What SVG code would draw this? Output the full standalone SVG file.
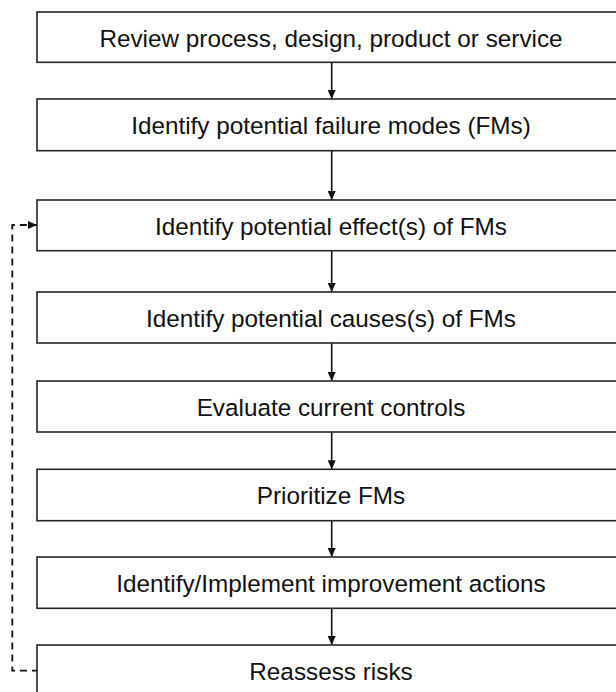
<svg xmlns="http://www.w3.org/2000/svg" width="616" height="692" viewBox="0 0 616 692">
  <defs>
    <style>
      .box { fill: #ffffff; stroke: #262626; stroke-width: 1.6; }
      .lbl { font-family: "Liberation Sans", Arial, sans-serif; font-size: 24.3px; fill: #111111; text-anchor: middle; }
      .flow { fill: none; stroke: #111111; stroke-width: 1.6; }
      .loop { fill: none; stroke: #111111; stroke-width: 1.8; stroke-dasharray: 7 5; }
    </style>
    <marker id="arrow" viewBox="0 0 9 8" refX="9" refY="4" markerWidth="9" markerHeight="8" markerUnits="userSpaceOnUse" orient="auto">
      <path d="M0,0 L9,4 L0,8 Z" fill="#111111"/>
    </marker>
  </defs>
  <rect x="0" y="0" width="616" height="692" fill="#ffffff"/>

  <g id="connectors">
    <line class="flow" x1="331.7" y1="62.3" x2="331.7" y2="99" marker-end="url(#arrow)"/>
    <line class="flow" x1="331.7" y1="150.7" x2="331.7" y2="200" marker-end="url(#arrow)"/>
    <line class="flow" x1="331.7" y1="250.7" x2="331.7" y2="292" marker-end="url(#arrow)"/>
    <line class="flow" x1="331.7" y1="343" x2="331.7" y2="381" marker-end="url(#arrow)"/>
    <line class="flow" x1="331.7" y1="432" x2="331.7" y2="469.3" marker-end="url(#arrow)"/>
    <line class="flow" x1="331.7" y1="520.7" x2="331.7" y2="557" marker-end="url(#arrow)"/>
    <line class="flow" x1="331.7" y1="608.3" x2="331.7" y2="645" marker-end="url(#arrow)"/>
    <path class="loop" d="M39,670.7 H12.3 V225 H37" marker-end="url(#arrow)"/>
  </g>

  <g id="node1">
    <rect class="box" x="37" y="12" width="600" height="50.3"/>
    <text class="lbl" x="331" y="46.7">Review process, design, product or service</text>
  </g>
  <g id="node2">
    <rect class="box" x="37" y="99" width="600" height="51.7"/>
    <text class="lbl" x="331" y="134">Identify potential failure modes (FMs)</text>
  </g>
  <g id="node3">
    <rect class="box" x="37" y="200" width="600" height="50.7"/>
    <text class="lbl" x="331" y="235">Identify potential effect(s) of FMs</text>
  </g>
  <g id="node4">
    <rect class="box" x="37" y="292" width="600" height="51"/>
    <text class="lbl" x="331" y="327">Identify potential causes(s) of FMs</text>
  </g>
  <g id="node5">
    <rect class="box" x="37" y="381" width="600" height="51"/>
    <text class="lbl" x="331" y="416">Evaluate current controls</text>
  </g>
  <g id="node6">
    <rect class="box" x="37" y="469.3" width="600" height="51.4"/>
    <text class="lbl" x="331" y="504">Prioritize FMs</text>
  </g>
  <g id="node7">
    <rect class="box" x="37" y="557" width="600" height="51.3"/>
    <text class="lbl" x="331" y="592">Identify/Implement improvement actions</text>
  </g>
  <g id="node8">
    <rect class="box" x="37" y="645" width="600" height="60"/>
    <text class="lbl" x="331" y="680">Reassess risks</text>
  </g>
</svg>
